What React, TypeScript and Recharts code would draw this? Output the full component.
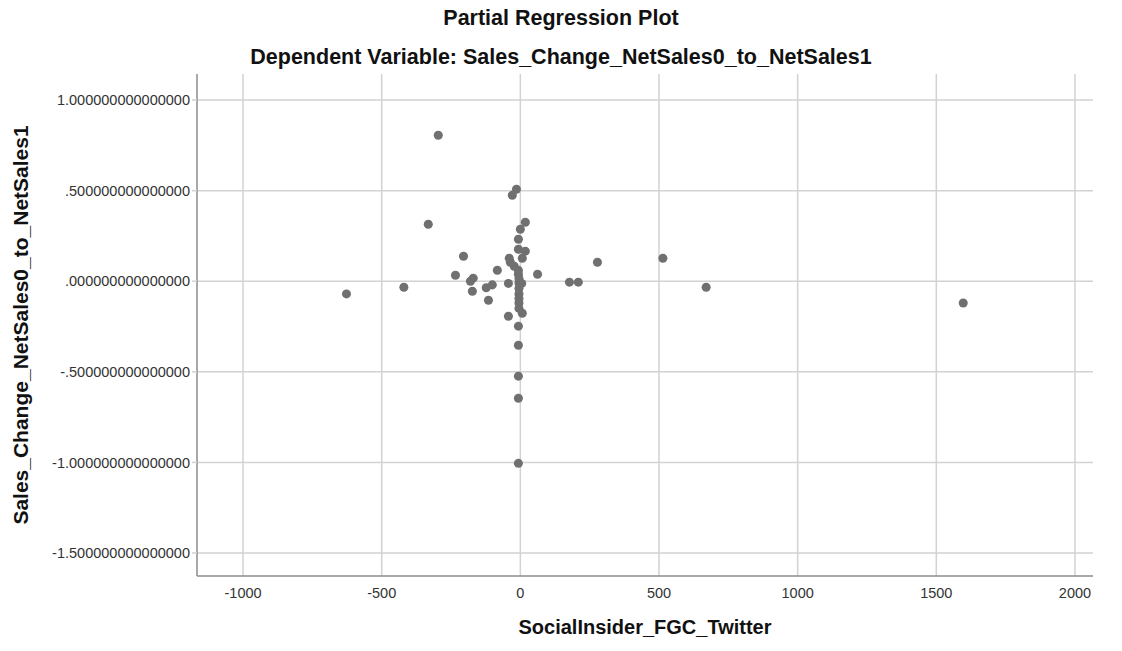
import React from 'react';
import { ScatterChart, Scatter, XAxis, YAxis, ZAxis, ReferenceLine } from 'recharts';

// residuals (x = SocialInsider_FGC_Twitter, y = sales change)
const xValues = [
  -627, -420, -332, -296, -234, -205, -180, -170, -173, -123, -101, -115, -83, -43, -43,
  -40, -36, -22, -14, -29, 18, 0, -7, -7, 18, 7, 62, -7, -7, -5, -5, 5, -5, -5, -5, -5,
  -5, 7, -7, -7, -7, -7, -7, 177, 209, 278, 514, 670, 1597,
];
const yValues = [
  -0.07, -0.033, 0.315, 0.806, 0.033, 0.138, 0.0, 0.017, -0.055, -0.036, -0.02, -0.105, 0.061, -0.193, -0.012,
  0.127, 0.105, 0.083, 0.508, 0.475, 0.326, 0.287, 0.232, 0.177, 0.166, 0.127, 0.039, 0.039, 0.06, 0.015, -0.01, -0.012, -0.04, -0.07, -0.095, -0.12,
  -0.15, -0.177, -0.248, -0.353, -0.524, -0.646, -1.005, -0.005, -0.005, 0.105, 0.127, -0.033, -0.12,
];
const xTicks = [-1000, -500, 0, 500, 1000, 1500, 2000];
const yTicks = [-1.5, -1, -0.5, 0, 0.5, 1];

const points = xValues.map((x, i) => ({ x, y: yValues[i] }));

const fmtY = (v: number) => v.toFixed(15).replace(/^(-?)0\./, '$1.');

const font = '"Liberation Sans", Arial, sans-serif';
const gridColor = '#d2d2d2';
const axisColor = '#8c8c8c';
const titleStyle: React.CSSProperties = {
  position: 'absolute', left: 0, width: 1122, textAlign: 'center', fontWeight: 700,
  fontSize: 21.5, color: '#111', lineHeight: '24px', whiteSpace: 'nowrap',
};

const App: React.FC = () => {
  return (
    <div style={{ position: 'relative', width: 1122, height: 651, margin: -8, background: '#fff', fontFamily: font }}>
      <div style={{ ...titleStyle, top: 6 }}>Partial Regression Plot</div>
      <div style={{ ...titleStyle, top: 45 }}>Dependent Variable: Sales_Change_NetSales0_to_NetSales1</div>
      <ScatterChart
        width={1122}
        height={651}
        margin={{ top: 74, right: 29, bottom: 45, left: 47 }}
      >
        {xTicks.map((t) => (
          <ReferenceLine key={'x' + t} x={t} stroke={gridColor} strokeWidth={1.5} />
        ))}
        {yTicks.map((t) => (
          <ReferenceLine key={'y' + t} y={t} stroke={gridColor} strokeWidth={1.5} />
        ))}
        <XAxis
          type="number"
          dataKey="x"
          domain={[-1166, 2065]}
          ticks={xTicks}
          allowDataOverflow
          height={30}
          tickLine={false}
          tickSize={9}
          tickMargin={3}
          axisLine={{ stroke: axisColor, strokeWidth: 1.5 }}
          tick={{ fontSize: 14.5, fill: '#333', fontFamily: font }}
        />
        <YAxis
          type="number"
          dataKey="y"
          domain={[-1.627, 1.144]}
          ticks={yTicks}
          allowDataOverflow
          width={150}
          tickSize={5}
          tickMargin={2}
          tickFormatter={fmtY}
          tickLine={{ stroke: gridColor, strokeWidth: 1.5 }}
          axisLine={{ stroke: axisColor, strokeWidth: 1.5 }}
          tick={{ fontSize: 14.5, fill: '#333', fontFamily: font }}
        />
        <ZAxis range={[100, 100]} />
        <Scatter data={points} fill="#707070" isAnimationActive={false} />
      </ScatterChart>
      <div style={{ position: 'absolute', left: 645 - 250, width: 500, top: 614, textAlign: 'center', fontWeight: 700, fontSize: 20, lineHeight: '26px', color: '#111' }}>
        SocialInsider_FGC_Twitter
      </div>
      <div
        style={{
          position: 'absolute', left: 21 - 250, top: 325 - 12, width: 500, textAlign: 'center',
          fontWeight: 700, fontSize: 21, color: '#111', transform: 'rotate(-90deg)', lineHeight: '24px',
        }}
      >
        Sales_Change_NetSales0_to_NetSales1
      </div>
    </div>
  );
};

export default App;
